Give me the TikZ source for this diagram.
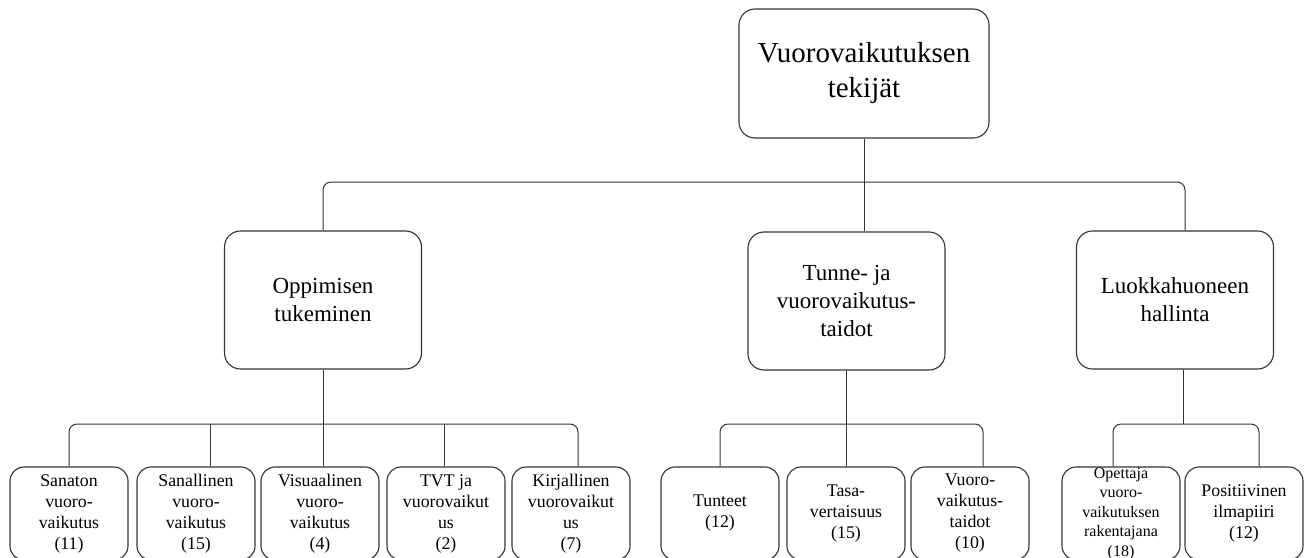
\documentclass[tikz,border=0pt]{standalone}
\usepackage{fontspec}
\setmainfont{Liberation Serif}
\usetikzlibrary{calc}
\begin{document}
\begin{tikzpicture}[x=1pt,y=-1pt,
  boxbase/.style={draw=black!80, line width=1.1pt, fill=white, align=center, inner sep=0pt, text=black},
  topbox/.style={boxbase, rounded corners=16pt, minimum width=250pt, minimum height=129pt, font=\fontsize{29}{35}\selectfont},
  midbox/.style={boxbase, rounded corners=16pt, minimum width=197pt, minimum height=138pt, font=\fontsize{23}{28}\selectfont},
  leafbox/.style={boxbase, rounded corners=14pt, minimum width=118pt, minimum height=93pt, font=\fontsize{17.8}{21}\selectfont},
  smallleaf/.style={leafbox, font=\fontsize{16}{19.5}\selectfont},
  conn/.style={draw=black!80, line width=1pt}
]
\useasboundingbox (0,0) rectangle (1313,557);
\clip (0,0) rectangle (1313,557);
\fill[white] (0,0) rectangle (1313,557);

% top
\node[topbox] (top) at (864,73.5) {Vuorovaikutuksen\\tekijät};

% middle
\node[midbox] (opp) at (323,300) {Oppimisen\\tukeminen};
\node[midbox] (tun) at (846.5,301) {Tunne- ja\\vuorovaikutus-\\taidot};
\node[midbox] (luo) at (1175,300) {Luokkahuoneen\\hallinta};

% leaves
\node[leafbox] (b1) at (69,513.5) {Sanaton\\vuoro-\\vaikutus\\(11)};
\node[leafbox] (b2) at (196,513.5) {Sanallinen\\vuoro-\\vaikutus\\(15)};
\node[leafbox] (b3) at (320,513.5) {Visuaalinen\\vuoro-\\vaikutus\\(4)};
\node[leafbox] (b4) at (446,513.5) {TVT ja\\vuorovaikut\\us\\(2)};
\node[leafbox] (b5) at (571,513.5) {Kirjallinen\\vuorovaikut\\us\\(7)};
\node[leafbox] (t1) at (720,513.5) {Tunteet\\(12)};
\node[leafbox] (t2) at (846,513.5) {Tasa-\\vertaisuus\\(15)};
\node[leafbox] (t3) at (970,513.5) {Vuoro-\\vaikutus-\\taidot\\(10)};
\node[smallleaf] (l1) at (1121,513.5) {Opettaja\\vuoro-\\vaikutuksen\\rakentajana\\(18)};
\node[leafbox] (l2) at (1244,513.5) {Positiivinen\\ilmapiiri\\(12)};

% helper coordinates
\coordinate (hA) at (0,182);
\coordinate (hB) at (0,424);
\coordinate (luoin) at ($(luo.north)+(10,0)$);
\coordinate (luoout) at ($(luo.south)+(8,0)$);
\coordinate (b2x) at ($(b2.north)+(14,0)$);
\coordinate (b4x) at ($(b4.north)+(-2,0)$);
\coordinate (b5x) at ($(b5.north)+(7,0)$);
\coordinate (t3x) at ($(t3.north)+(13,0)$);
\coordinate (l1x) at ($(l1.north)+(-8,0)$);
\coordinate (l2x) at ($(l2.north)+(15,0)$);

% level 1 connectors
\draw[conn] (top.south) -- (top.south |- hA);
\draw[conn, rounded corners=8pt] (opp.north) |- (luoin |- hA) -- (luoin);
\draw[conn] (top.south |- hA) -- (top.south |- tun.north);

% group 1
\draw[conn] (opp.south) -- (opp.south |- b3.north);
\draw[conn, rounded corners=8pt] (b1.north) |- (b5x |- hB) -- (b5x);
\draw[conn] (b2x |- hB) -- (b2x);
\draw[conn] (b4x |- hB) -- (b4x);

% group 2
\draw[conn] (tun.south) -- (tun.south |- t2.north);
\draw[conn, rounded corners=8pt] (t1.north) |- (t3x |- hB) -- (t3x);

% group 3
\draw[conn] (luoout) -- (luoout |- hB);
\draw[conn, rounded corners=8pt] (l1x) |- (l2x |- hB) -- (l2x);
\end{tikzpicture}
\end{document}
